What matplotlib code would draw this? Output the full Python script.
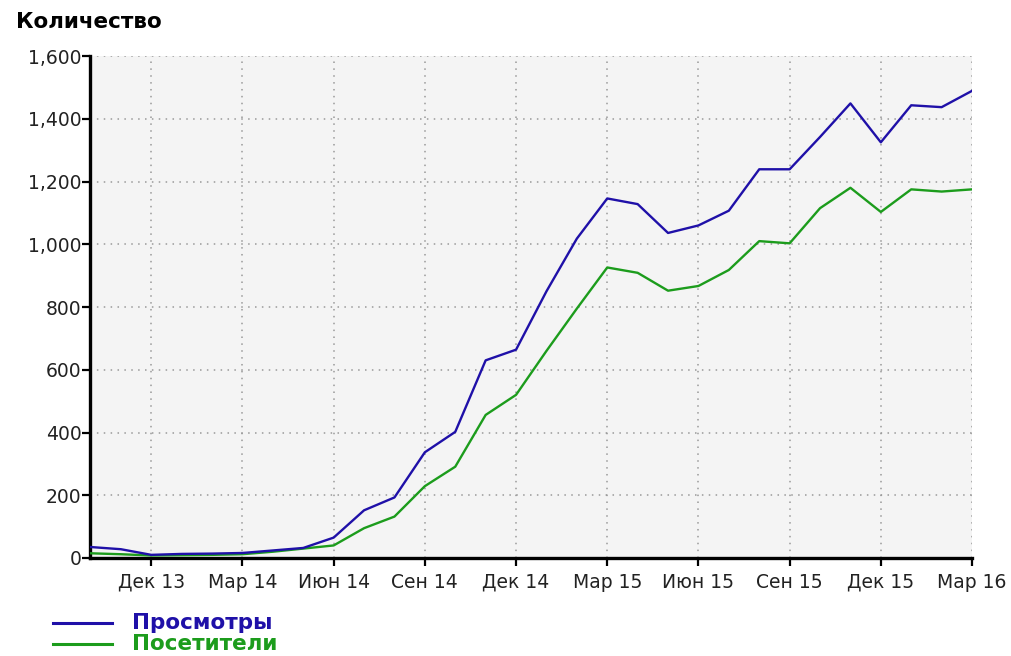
import matplotlib
matplotlib.use("Agg")
import matplotlib.pyplot as plt
from matplotlib.ticker import FuncFormatter
from matplotlib.lines import Line2D

# месяцы: Окт 13 ... Мар 16
months = ["Окт 13", "Ноя 13", "Дек 13", "Янв 14", "Фев 14", "Мар 14", "Апр 14", "Май 14",
          "Июн 14", "Июл 14", "Авг 14", "Сен 14", "Окт 14", "Ноя 14", "Дек 14", "Янв 15",
          "Фев 15", "Мар 15", "Апр 15", "Май 15", "Июн 15", "Июл 15", "Авг 15", "Сен 15",
          "Окт 15", "Ноя 15", "Дек 15", "Янв 16", "Фев 16", "Мар 16"]
views = [35, 28, 10, 13, 14, 16, 24, 32, 65, 152, 193, 337, 402, 630, 664, 850,
         1018, 1146, 1128, 1036, 1060, 1107, 1239, 1239, 1342, 1449, 1325, 1443, 1437, 1489]
visitors = [15, 12, 8, 9, 10, 12, 20, 30, 40, 95, 132, 229, 291, 456, 520, 660,
            795, 926, 909, 852, 867, 918, 1010, 1003, 1115, 1180, 1103, 1175, 1168, 1175]
tick_idx = [2, 5, 8, 11, 14, 17, 20, 23, 26, 29]
tick_labels = ["Дек 13", "Мар 14", "Июн 14", "Сен 14", "Дек 14",
               "Мар 15", "Июн 15", "Сен 15", "Дек 15", "Мар 16"]

blue = "#1f10a8"
green = "#1c9c1c"

plt.rcParams['font.family'] = ['DejaVu Sans']

fig = plt.figure(figsize=(10.12, 6.56), dpi=100)
ax = fig.add_axes([0.0894, 0.1494, 0.8711, 0.7652])
ax.set_facecolor("#f4f4f4")

x = list(range(len(months)))
ax.plot(x, visitors, color=green, lw=1.7, zorder=3)
ax.plot(x, views, color=blue, lw=1.7, zorder=4)

ax.set_xlim(0, len(months) - 1)
ax.set_ylim(0, 1600)
ax.set_yticks(range(0, 1601, 200))
ax.yaxis.set_major_formatter(FuncFormatter(lambda v, p: f"{int(v):,}"))
ax.set_xticks(tick_idx)
ax.set_xticklabels(tick_labels)

ax.grid(True, color="#999999", linestyle=(0, (1, 3.5)), lw=1.1)
for s in ["top", "right"]:
    ax.spines[s].set_visible(False)
for s in ["left", "bottom"]:
    ax.spines[s].set_linewidth(2.4)
ax.tick_params(axis="both", labelsize=13.5, colors="black", width=1.6, length=5.5, labelcolor="#222222")
ax.tick_params(axis="y", pad=1)
ax.tick_params(axis="x", pad=5)

fig.text(0.016, 0.966, "Количество", fontsize=15.5, fontweight="bold", va="center", ha="left")

# легенда под графиком
leg_lines = [Line2D([0.052, 0.111], [0.051, 0.051], color=blue, lw=2.2, transform=fig.transFigure),
             Line2D([0.052, 0.111], [0.018, 0.018], color=green, lw=2.2, transform=fig.transFigure)]
for ln in leg_lines:
    fig.add_artist(ln)
fig.text(0.13, 0.051, "Просмотры", color=blue, fontsize=15.5, fontweight="bold", va="center")
fig.text(0.13, 0.018, "Посетители", color=green, fontsize=15.5, fontweight="bold", va="center")

plt.savefig("out.png", dpi=100)
